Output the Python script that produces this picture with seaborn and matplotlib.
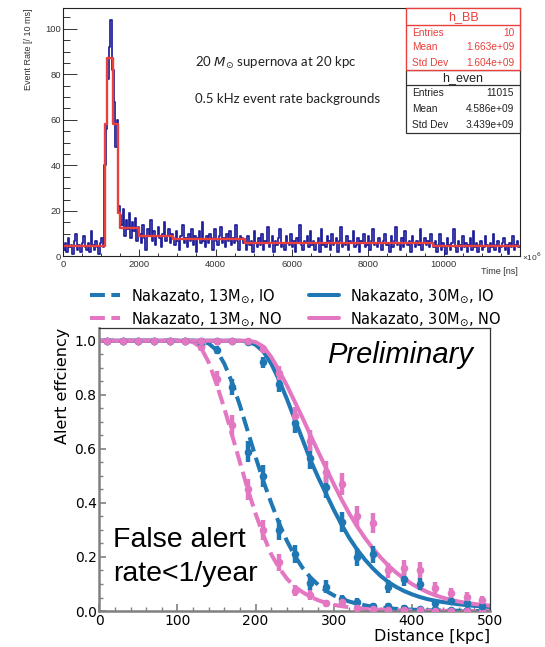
import numpy as np
import pandas as pd
import matplotlib
matplotlib.use("Agg")
import matplotlib.pyplot as plt
import seaborn as sns
from matplotlib.patches import Rectangle
from matplotlib.lines import Line2D
from matplotlib.ticker import MultipleLocator, FixedLocator

sns.set_theme(style="ticks", rc={"text.color": "black", "axes.labelcolor": "black",
                                 "xtick.color": "black", "ytick.color": "black"})
plt.rcParams["font.family"] = ["DejaVu Sans"]

# ---------------- top panel data ----------------
time_bin_ms = 40
event_counts = [
    # 0 - 1080 ms (background)
    3, 6, 2, 8, 4, 5, 1, 7, 10, 3, 5, 2, 6, 9, 4, 3, 6, 2, 11, 5, 3, 7, 4, 1, 6, 8, 4,
    # burst 1080 - 1480 ms
    40, 56, 78, 92, 104, 82, 68, 48, 60, 22,
    # 1480 - 2000 ms
    18, 14, 21, 9, 16, 12, 19, 8, 15, 11, 17, 7, 13,
    # 2000 - 2880 ms
    10, 6, 14, 8, 3, 12, 9, 16, 7, 11, 5, 9, 13, 8, 4, 10, 15, 7, 9, 12, 6, 10,
    # 2880 - 4760 ms
    8, 5, 11, 7, 3, 9, 14, 6, 8, 4, 10, 7, 12, 5, 9, 2, 8, 11, 6, 15,
    7, 4, 9, 6, 10, 8, 3, 12, 7, 5, 9, 13, 6, 8, 4, 10, 7, 11, 5, 8,
    6, 14, 7, 3, 9, 8, 6,
    # 4760 - 9720 ms
    6, 3, 9, 5, 7, 2, 11, 6, 4, 8, 5, 10, 3, 7, 6, 13, 4, 6, 9, 2,
    7, 5, 8, 12, 4, 6, 3, 9, 6, 5, 10, 4, 7, 2, 8, 6, 14, 5, 3, 7,
    6, 9, 4, 11, 5, 7, 3, 6, 8, 2, 12, 5, 6, 4, 9, 7, 3, 10, 5, 6,
    8, 2, 7, 13, 4, 6, 5, 9, 3, 7, 6, 11, 4, 5, 8, 2, 7, 6, 10, 4,
    5, 9, 3, 7, 12, 5, 6, 4, 8, 6, 3, 7, 10, 5, 6, 2, 9, 4, 7, 13,
    5, 6, 3, 8, 4, 11, 6, 5, 7, 2, 9, 6, 4, 7, 5, 12, 3, 6, 8, 5,
    7, 4, 10, 6,
    # 9720 - 12000 ms
    4, 7, 2, 5, 10, 3, 6, 4, 1, 8, 5, 3, 6, 12, 4, 2, 7, 5, 3, 9,
    4, 6, 2, 5, 8, 3, 11, 4, 6, 2, 5, 7, 3, 4, 9, 5, 2, 6, 4, 10,
    3, 5, 7, 2, 4, 6, 8, 3, 5, 1, 6, 4, 9, 3, 5, 7, 4,
]
bb_edges_ms = [0, 1095, 1150, 1300, 1450, 1490, 1980, 2880, 4770, 9720, 12000]
bb_rates = [4.5, 58, 87, 58, 19, 12.5, 9, 7.5, 6, 4.5]
time_ticks = [0, 2000, 4000, 6000, 8000, 10000]

stats_bb = [("Entries", "10"), ("Mean", "1.663e+09"), ("Std Dev", "1.604e+09")]
stats_even = [("Entries", "11015"), ("Mean", "4.586e+09"), ("Std Dev", "3.439e+09")]

# ---------------- bottom panel data ----------------
fit_distance = list(range(0, 501, 10))
fit_io13 = [1.0] * 13 + [0.998, 0.99, 0.965, 0.915, 0.845, 0.76, 0.665, 0.57, 0.48, 0.40, 0.325,
                         0.26, 0.205, 0.16, 0.125, 0.097, 0.075, 0.058, 0.045, 0.035, 0.027,
                         0.021, 0.016, 0.013, 0.01, 0.008, 0.006, 0.005, 0.004, 0.003, 0.002,
                         0.002, 0.001, 0.001, 0.001, 0.0, 0.0, 0.0]
fit_no13 = [1.0] * 12 + [0.995, 0.975, 0.92, 0.84, 0.75, 0.65, 0.55, 0.45, 0.36, 0.28, 0.21,
                         0.16, 0.12, 0.09, 0.07, 0.053, 0.04, 0.03, 0.023, 0.018, 0.014,
                         0.011, 0.008, 0.006, 0.005, 0.004, 0.003, 0.002,
                         0.002, 0.001, 0.001, 0.001, 0.001, 0.0, 0.0, 0.0, 0.0, 0.0, 0.0]
fit_io30 = [1.0] * 19 + [0.997, 0.985, 0.96, 0.915, 0.855, 0.785, 0.71, 0.635, 0.56, 0.495, 0.435,
                         0.375, 0.32, 0.27, 0.227, 0.19, 0.158, 0.13, 0.107, 0.089, 0.074,
                         0.062, 0.052, 0.044, 0.038, 0.033, 0.029, 0.025, 0.022, 0.019, 0.017,
                         0.015]
fit_no30 = [1.0] * 20 + [0.995, 0.978, 0.94, 0.89, 0.835, 0.775, 0.715, 0.652, 0.59, 0.53, 0.47,
                         0.413, 0.36, 0.313, 0.27, 0.232, 0.198, 0.168, 0.142, 0.12, 0.1,
                         0.084, 0.07, 0.058, 0.049, 0.041, 0.035, 0.03, 0.026, 0.023, 0.02]

point_distance = list(range(10, 500, 20))
pts_io13 = [1.0] * 6 + [0.985, 0.965, 0.83, 0.59, 0.50, 0.30, 0.21, 0.102, 0.09, 0.044, 0.034,
                        0.018, 0.02, 0.012, 0.008, 0.006, 0.004, 0.003, 0.002]
err_io13 = [0.004] * 6 + [0.008, 0.014, 0.03, 0.04, 0.04, 0.037, 0.033, 0.024, 0.023, 0.016, 0.014,
                          0.01, 0.011, 0.009, 0.007, 0.006, 0.005, 0.004, 0.004]
pts_no13 = [1.0] * 6 + [0.975, 0.86, 0.69, 0.45, 0.30, 0.18, 0.075, 0.059, 0.028, 0.034, 0.013,
                        0.008, 0.005, 0.003, 0.002, 0.001, 0.0, 0.0, 0.0]
err_no13 = [0.004] * 6 + [0.012, 0.028, 0.037, 0.04, 0.037, 0.031, 0.021, 0.019, 0.013, 0.015, 0.009,
                          0.007, 0.006, 0.004, 0.004, 0.003, 0.003, 0.003, 0.003]
pts_io30 = [1.0] * 9 + [0.995, 0.92, 0.84, 0.695, 0.565, 0.46, 0.33, 0.2, 0.21, 0.09, 0.118, 0.1,
                        0.028, 0.038, 0.031, 0.018]
err_io30 = [0.004] * 10 + [0.02, 0.028, 0.036, 0.04, 0.04, 0.037, 0.032, 0.032, 0.023, 0.025, 0.024,
                           0.013, 0.015, 0.014, 0.01]
pts_no30 = [1.0] * 10 + [0.97, 0.88, 0.72, 0.63, 0.515, 0.47, 0.35, 0.325, 0.15, 0.16, 0.152,
                         0.085, 0.065, 0.053, 0.04]
err_no30 = [0.004] * 10 + [0.012, 0.025, 0.035, 0.038, 0.04, 0.04, 0.038, 0.037, 0.028, 0.029, 0.028,
                           0.022, 0.019, 0.017, 0.015]

labels = ["Nakazato, 13M$_{\\odot}$, IO", "Nakazato, 13M$_{\\odot}$, NO",
          "Nakazato, 30M$_{\\odot}$, IO", "Nakazato, 30M$_{\\odot}$, NO"]

BLUE = "#1f77b4"
PINK = "#e377c2"
HIST_BLUE = "#1e1e9a"
HIST_RED = "#e8403c"

fig = plt.figure(figsize=(5.45, 6.47), dpi=100)

# ======================= top panel =======================
ax1 = fig.add_axes([0.1161, 0.6036, 0.838, 0.3836])
n = len(event_counts)
edges = [i * time_bin_ms for i in range(n + 1)]
df_ev = pd.DataFrame({"t": [e + time_bin_ms / 2 for e in edges[:-1]], "rate": event_counts})
sns.histplot(data=df_ev, x="t", weights="rate", bins=edges, element="step", fill=False,
             color=HIST_BLUE, linewidth=1.25, ax=ax1)
df_bb = pd.DataFrame({"t": [(a + b) / 2 for a, b in zip(bb_edges_ms[:-1], bb_edges_ms[1:])],
                      "rate": bb_rates})
sns.histplot(data=df_bb, x="t", weights="rate", bins=list(bb_edges_ms), element="step", fill=False,
             color=HIST_RED, linewidth=1.7, ax=ax1)
ax1.set_xlim(0, 12000)
ax1.set_ylim(0, 109)
ax1.set_xlabel("")
ax1.set_ylabel("")
for s in ax1.spines.values():
    s.set_visible(True)
    s.set_color("#222222")
    s.set_linewidth(0.8)
ax1.xaxis.set_major_locator(FixedLocator(time_ticks))
ax1.xaxis.set_minor_locator(MultipleLocator(500))
ax1.yaxis.set_major_locator(MultipleLocator(20))
ax1.yaxis.set_minor_locator(MultipleLocator(5))
ax1.tick_params(axis="both", which="both", direction="in", colors="#333333",
                labelsize=6.8, width=0.7, top=False, right=False)
ax1.tick_params(axis="y", which="major", length=10, pad=1.5)
ax1.tick_params(axis="y", which="minor", length=5)
ax1.tick_params(axis="x", which="major", length=5, pad=2.5)
ax1.tick_params(axis="x", which="minor", length=2.5)
for lab in ax1.get_xticklabels() + ax1.get_yticklabels():
    lab.set_family("Liberation Sans")

ax1.text(-0.077, 1.0, "Event Rate [/ 10 ms]", transform=ax1.transAxes, rotation=90,
         ha="center", va="top", fontsize=6.5, color="#333333", family="Liberation Sans")
ax1.text(0.996, -0.062, "Time [ns]", transform=ax1.transAxes, ha="right", va="center",
         fontsize=6.5, color="#333333", family="Liberation Sans")
ax1.text(1.004, 0.0, "×10$^{6}$", transform=ax1.transAxes, ha="left", va="center",
         fontsize=6, color="#333333", family="Liberation Sans")
ax1.text(0.289, 0.764, "20 $M_{\\odot}$ supernova at 20 kpc", transform=ax1.transAxes,
         ha="left", va="baseline", fontsize=9.5, family="Lato", color="#222222")
ax1.text(0.289, 0.617, "0.5 kHz event rate backgrounds", transform=ax1.transAxes,
         ha="left", va="baseline", fontsize=9.5, family="Lato", color="#222222")

# stats boxes
bx0, bx1 = 0.7505, 1.0
ax1.add_patch(Rectangle((bx0, 0.7505), bx1 - bx0, 1.0 - 0.7505, transform=ax1.transAxes,
                        facecolor="white", edgecolor=HIST_RED, linewidth=1.0, clip_on=False, zorder=5))
ax1.plot([bx0, bx1], [0.9316, 0.9316], transform=ax1.transAxes, color=HIST_RED, lw=1.0,
         clip_on=False, zorder=6)
ax1.add_patch(Rectangle((bx0, 0.496), bx1 - bx0, 0.7505 - 0.496, transform=ax1.transAxes,
                        facecolor="white", edgecolor="#333333", linewidth=0.9, clip_on=False, zorder=4))
ax1.plot([bx0, bx1], [0.690, 0.690], transform=ax1.transAxes, color="#333333", lw=0.9,
         clip_on=False, zorder=6)
ax1.text((bx0 + bx1) / 2, 0.966, "h_BB", transform=ax1.transAxes, ha="center", va="center",
         fontsize=9, color=HIST_RED, family="Liberation Sans", zorder=7)
ax1.text((bx0 + bx1) / 2, 0.720, "h_even", transform=ax1.transAxes, ha="center", va="center",
         fontsize=9, color="#222222", family="Liberation Sans", zorder=7)
for (k, v), y in zip(stats_bb, [0.902, 0.842, 0.7815]):
    ax1.text(0.763, y, k, transform=ax1.transAxes, ha="left", va="center", fontsize=7.3,
             color=HIST_RED, family="Liberation Sans", zorder=7)
    ax1.text(0.987, y, v, transform=ax1.transAxes, ha="right", va="center", fontsize=7.3,
             color=HIST_RED, family="Liberation Sans", zorder=7)
for (k, v), y in zip(stats_even, [0.657, 0.596, 0.529]):
    ax1.text(0.763, y, k, transform=ax1.transAxes, ha="left", va="center", fontsize=7.3,
             color="#222222", family="Liberation Sans", zorder=7)
    ax1.text(0.987, y, v, transform=ax1.transAxes, ha="right", va="center", fontsize=7.3,
             color="#222222", family="Liberation Sans", zorder=7)

# ======================= bottom panel =======================
ax2 = fig.add_axes([0.1822, 0.0556, 0.7169, 0.4374])
series = [
    (labels[0], BLUE, "--", fit_io13, pts_io13, err_io13),
    (labels[1], PINK, "--", fit_no13, pts_no13, err_no13),
    (labels[2], BLUE, "-", fit_io30, pts_io30, err_io30),
    (labels[3], PINK, "-", fit_no30, pts_no30, err_no30),
]
handles = []
for lab, col, ls, fit, pts, err in series:
    df_fit = pd.DataFrame({"d": fit_distance, "eff": fit})
    sns.lineplot(data=df_fit, x="d", y="eff", ax=ax2, color=col, linestyle=ls, linewidth=2.9,
                 errorbar=None, legend=False)
    ax2.errorbar(point_distance, pts, yerr=err, fmt="o", color=col, markersize=4.5,
                 elinewidth=3.2, capsize=0, zorder=3)
    handles.append(Line2D([0], [0], color=col, linestyle=ls, linewidth=2.9))

ax2.set_xlim(0, 500)
ax2.set_ylim(0, 1.047)
ax2.xaxis.set_major_locator(MultipleLocator(100))
ax2.xaxis.set_minor_locator(MultipleLocator(20))
ax2.yaxis.set_major_locator(MultipleLocator(0.2))
ax2.yaxis.set_minor_locator(MultipleLocator(0.05))
ax2.tick_params(which="both", direction="in", top=False, right=False, color="#808080",
                labelcolor="black")
ax2.tick_params(which="major", length=5, width=1.2, labelsize=10, pad=2)
ax2.tick_params(which="minor", length=3, width=1.0)
for side in ["left", "bottom"]:
    ax2.spines[side].set_color("#808080")
    ax2.spines[side].set_linewidth(1.8)
for side in ["top", "right"]:
    ax2.spines[side].set_visible(True)
    ax2.spines[side].set_color("#333333")
    ax2.spines[side].set_linewidth(0.9)
ax2.set_xlabel("Distance [kpc]", fontsize=11.5, loc="right", labelpad=1, color="black")
ax2.set_ylabel("Alert effciency", fontsize=11.5, loc="top", labelpad=3, color="black")

ax2.text(291, 0.916, "Preliminary", style="italic", family="Liberation Sans", fontsize=21,
         ha="left", va="baseline", color="black")
ax2.text(17.5, 0.237, "False alert", family="Liberation Sans", fontsize=20.5,
         ha="left", va="baseline", color="black")
ax2.text(17.5, 0.11, "rate<1/year", family="Liberation Sans", fontsize=20.5,
         ha="left", va="baseline", color="black")

leg = ax2.legend(handles, labels, loc="lower left", bbox_to_anchor=(0.165, 0.493),
                 bbox_transform=fig.transFigure, ncol=2, frameon=False, borderpad=0,
                 borderaxespad=0, handlelength=2.05, handletextpad=0.75, columnspacing=1.85,
                 labelspacing=0.35, fontsize=10.5)
for t in leg.get_texts():
    t.set_color("black")

fig.savefig("out.png", dpi=100)
